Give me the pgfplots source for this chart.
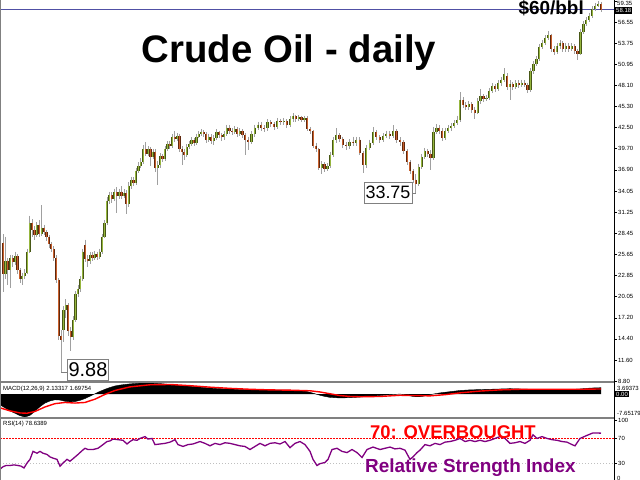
\documentclass[border=0pt]{standalone}
\usepackage{fontspec}
\setmainfont{Liberation Sans}
\usepackage{pgfplots}
\pgfplotsset{compat=1.18}
\usepackage{pgfplotstable}
\usepgfplotslibrary{fillbetween}

\definecolor{upfill}{RGB}{150,182,62}
\definecolor{upedge}{RGB}{72,88,22}
\definecolor{dnfill}{RGB}{200,96,44}
\definecolor{dnedge}{RGB}{96,40,14}
\definecolor{wick}{RGB}{160,160,160}
\definecolor{sep}{RGB}{128,128,128}
\definecolor{bid}{RGB}{80,80,165}
\definecolor{rsipurple}{RGB}{128,0,128}
\newcommand{\tk}{\fontsize{6}{7}\selectfont}

% daily candles: x (pixel column), open, high, low, close
\pgfplotstableread{
x o h l c
3.0 27.2 28.3 20.6 23.0
5.4 23.0 28.0 22.4 24.8
7.8 24.8 25.2 21.6 23.5
10.3 23.5 25.6 21.2 25.1
12.7 25.1 25.5 24.0 24.6
15.1 24.6 26.0 24.2 25.4
17.5 25.4 25.7 23.1 23.5
19.9 23.5 23.8 21.8 22.4
22.3 22.4 23.2 21.6 22.8
24.8 22.8 23.7 22.4 23.2
27.2 23.2 26.4 23.0 26.0
29.6 26.0 30.8 25.8 29.8
32.0 29.8 30.3 28.0 28.9
34.4 28.9 29.4 27.6 28.2
36.8 28.2 29.9 27.9 29.5
39.3 29.5 30.2 28.0 28.4
41.7 28.4 32.2 28.1 29.2
44.1 29.2 29.6 28.2 28.6
46.5 28.6 28.9 27.4 27.9
48.9 27.9 28.2 26.5 27.0
51.3 27.0 27.3 25.9 26.3
53.8 26.3 26.7 24.8 25.2
56.2 25.2 25.5 21.9 22.3
58.6 22.3 22.5 14.2 14.8
61.0 14.8 15.6 9.88 14.2
63.4 15.6 18.8 14.0 18.2
65.8 18.2 19.7 17.2 18.9
68.3 18.9 19.2 14.8 15.4
70.7 15.4 16.0 12.8 14.6
73.1 14.6 17.4 14.3 16.9
75.5 16.9 20.8 16.6 20.4
77.9 20.4 21.6 20.0 21.0
80.3 21.0 22.8 20.6 22.4
82.8 22.4 26.4 22.1 26.0
85.2 26.9 27.6 24.6 25.0
87.6 25.0 25.6 24.0 24.8
90.0 24.8 26.0 24.4 25.6
92.4 25.6 25.9 24.7 25.2
94.8 25.2 26.1 24.9 25.7
97.3 25.7 26.0 24.9 25.3
99.7 25.3 26.4 25.0 26.0
102.1 26.0 28.3 25.7 28.0
104.5 28.0 30.2 27.8 29.8
106.9 29.8 33.3 29.5 32.8
109.3 32.8 34.0 32.4 33.5
111.8 33.5 33.9 32.5 33.0
114.2 33.0 34.4 32.7 33.9
116.6 33.9 34.6 31.2 33.4
119.0 33.4 34.4 33.0 34.0
121.4 34.0 34.7 33.0 33.4
123.9 33.4 34.3 33.1 33.8
126.3 33.8 34.2 31.0 32.3
128.7 32.3 35.3 32.0 34.8
131.1 34.8 36.0 34.4 35.5
133.5 35.5 35.9 34.7 35.1
135.9 35.1 37.2 34.9 36.8
138.4 36.8 37.9 36.5 37.4
140.8 37.4 38.4 37.1 37.9
143.2 37.9 40.2 37.6 39.6
145.6 39.6 40.6 38.7 39.0
148.0 39.0 40.0 38.7 39.6
150.4 39.6 39.9 37.4 38.6
152.9 38.6 39.7 38.3 39.3
155.3 39.3 39.6 36.6 37.2
157.7 37.2 38.0 34.9 37.5
160.1 37.5 39.1 37.2 38.7
162.5 38.7 39.0 37.9 38.3
164.9 38.3 40.0 38.0 39.7
167.4 39.7 40.7 39.4 40.3
169.8 40.3 40.7 39.6 40.0
172.2 40.0 41.6 39.8 41.3
174.6 41.3 42.0 40.6 41.0
177.0 41.0 41.8 40.7 41.4
179.4 41.4 41.7 39.2 39.6
181.9 39.6 40.0 37.5 39.2
184.3 39.2 39.7 38.2 38.9
186.7 38.9 40.3 38.6 39.9
189.1 39.9 40.7 39.6 40.3
191.5 40.3 41.2 40.0 40.8
193.9 40.8 41.1 40.1 40.5
196.4 40.5 41.7 40.2 41.3
198.8 41.3 42.0 41.1 41.6
201.2 41.6 42.3 41.4 41.9
203.6 41.9 42.2 41.2 41.6
206.0 41.6 41.9 40.5 40.9
208.6 40.9 41.7 40.6 41.3
211.2 41.3 41.6 40.3 40.7
213.8 40.7 41.5 40.2 41.1
216.4 41.1 42.3 40.9 41.9
219.0 41.9 42.1 41.1 41.5
221.6 41.5 41.8 40.7 41.2
224.2 41.2 42.0 40.9 41.6
226.8 41.6 42.9 41.4 42.5
229.4 42.5 42.8 41.6 42.0
232.0 42.0 42.4 41.5 41.9
234.6 41.9 42.7 41.6 42.3
237.2 42.3 42.6 41.3 41.7
239.8 41.7 42.4 41.4 42.0
242.4 42.0 42.3 41.1 41.5
245.0 41.5 41.8 38.9 40.9
248.2 40.9 41.3 39.5 40.6
251.4 40.6 42.0 40.3 41.6
254.6 41.6 42.9 41.3 42.5
257.9 42.5 43.3 42.2 42.9
261.1 42.9 43.2 42.1 42.5
264.3 42.5 42.8 41.9 42.4
267.5 42.4 43.6 42.1 43.2
270.7 43.2 43.5 42.6 43.0
273.9 43.0 43.3 42.2 42.6
277.1 42.6 43.8 42.3 43.4
280.4 43.4 43.7 42.9 43.2
283.6 43.2 43.8 42.9 43.4
286.8 43.4 43.6 42.4 42.8
290.0 42.8 44.0 42.6 43.6
292.9 43.6 44.4 43.3 44.0
295.8 44.0 44.2 43.3 43.6
298.6 43.6 44.2 43.4 43.9
301.5 43.9 44.1 43.2 43.5
304.4 43.5 44.1 43.3 43.8
307.3 43.8 44.0 42.0 42.3
310.1 42.3 42.6 41.7 42.0
313.0 42.0 42.2 39.8 40.1
315.9 40.1 40.5 39.2 39.6
318.8 39.6 39.8 36.9 37.2
321.6 37.2 38.0 36.3 37.6
324.5 37.6 37.9 36.6 37.0
327.4 37.0 37.8 36.7 37.4
330.3 37.4 39.3 37.1 38.9
333.1 38.9 41.2 38.6 40.8
336.0 40.8 42.4 40.5 41.5
339.4 41.5 41.8 40.6 41.0
342.8 41.0 41.3 39.8 40.2
346.1 40.2 40.6 39.5 40.0
349.5 40.0 41.0 39.7 40.6
352.9 40.6 41.3 40.0 40.4
356.3 40.4 41.3 40.1 40.9
359.6 40.9 41.2 38.8 39.1
363.0 39.1 39.4 36.5 37.5
366.3 37.5 40.2 37.2 39.8
369.7 39.8 40.9 39.5 40.5
373.0 40.5 42.6 40.2 41.9
376.3 41.9 42.2 40.8 41.2
379.7 41.2 41.5 40.4 40.9
383.0 40.9 41.8 40.6 41.4
386.3 41.4 42.1 41.1 41.7
389.7 41.7 42.0 41.0 41.4
393.0 41.4 42.8 41.1 42.1
396.5 42.1 42.3 40.4 40.8
400.0 40.8 41.2 40.1 40.6
403.5 40.6 40.8 39.0 39.4
407.0 39.4 39.6 37.5 37.9
409.9 37.9 38.2 36.4 36.8
412.9 36.8 37.0 35.2 35.6
415.8 35.6 36.3 33.75 35.0
418.8 35.0 37.7 34.8 37.3
421.7 37.3 39.0 37.0 38.6
424.6 38.6 39.8 38.3 39.4
427.6 39.4 39.7 38.6 39.0
430.5 39.0 39.5 36.9 38.4
433.5 38.4 42.6 38.2 41.9
436.4 41.9 43.0 41.6 42.5
439.3 42.5 42.8 41.7 42.1
442.3 42.1 42.4 40.7 41.1
445.2 41.1 42.5 40.9 42.1
448.2 42.1 42.8 41.8 42.4
451.1 42.4 43.1 42.1 42.7
454.0 42.7 43.5 42.4 43.1
457.0 43.1 44.1 42.8 43.5
459.9 43.5 47.2 43.3 46.2
462.9 46.2 46.6 45.1 45.5
465.8 45.5 45.9 44.8 45.2
468.7 45.2 46.0 44.9 45.6
471.7 45.6 45.9 44.5 44.9
474.6 44.9 45.3 43.6 44.5
477.6 44.5 46.4 44.3 46.0
480.5 46.0 47.6 45.7 46.7
483.4 46.7 47.0 45.9 46.3
486.4 46.3 46.9 46.0 46.5
489.3 46.5 47.8 46.2 47.4
492.3 47.4 48.4 47.1 48.0
495.2 48.0 48.3 47.3 47.7
498.1 47.7 48.8 47.4 48.4
501.1 48.4 49.3 48.1 48.9
504.0 48.9 50.4 48.6 49.6
507.0 49.4 49.8 47.5 47.9
509.9 47.9 48.8 46.2 48.3
512.8 48.3 48.6 47.5 47.9
515.8 47.9 48.8 47.6 48.4
518.7 48.4 48.8 47.8 48.2
521.7 48.2 48.9 47.9 48.5
524.6 48.5 48.8 47.9 48.2
527.5 48.2 48.5 47.1 47.5
530.5 47.5 50.4 47.2 50.0
533.4 50.0 51.4 49.7 51.0
536.4 51.0 52.0 50.7 51.6
539.3 51.6 53.6 51.4 53.2
542.2 53.2 54.2 52.9 53.8
545.2 53.8 54.8 53.5 54.4
548.1 54.4 55.3 54.1 54.8
551.1 54.8 55.0 52.6 53.0
554.0 53.0 53.3 52.2 52.6
556.9 52.6 53.7 52.3 53.3
559.9 53.3 54.1 53.0 53.7
562.8 53.7 54.0 52.5 52.9
565.8 52.9 53.8 52.6 53.4
568.7 53.4 53.7 52.6 53.0
571.6 53.0 53.7 52.7 53.3
574.6 53.3 53.6 52.3 52.7
577.5 52.7 53.0 51.5 52.3
580.5 52.3 55.6 52.1 55.2
583.4 55.2 56.7 55.0 56.3
586.3 56.3 57.2 56.0 56.8
589.3 56.8 57.8 56.5 57.4
592.2 57.4 58.7 57.1 58.3
595.2 58.3 59.1 58.0 58.7
598.1 58.7 59.3 58.5 59.0
601.0 59.0 59.2 57.9 58.18
}\candles

% MACD main (histogram)
\pgfplotstableread{
x v
0 -3.6
5 -4.6
10 -5.6
15 -6.4
20 -7.2
25 -7.65
30 -7.1
35 -5.7
40 -4.2
45 -3.0
50 -2.3
55 -1.9
60 -2.0
65 -2.4
70 -2.6
75 -2.5
80 -2.1
85 -1.5
90 -0.7
95 0.1
100 0.9
105 1.6
110 2.2
115 2.7
120 3.0
130 3.4
140 3.65
150 3.69
160 3.5
170 3.2
180 2.9
190 2.6
200 2.3
210 2.0
220 1.8
230 1.7
240 1.5
250 1.4
260 1.4
270 1.3
280 1.3
290 1.3
300 1.2
305 1.0
310 0.6
315 0.1
320 -0.4
325 -0.8
330 -1.1
335 -1.2
340 -1.3
350 -1.2
360 -1.0
370 -0.7
380 -0.5
390 -0.2
400 0.0
405 -0.2
410 -0.6
415 -0.9
420 -0.9
425 -0.6
430 -0.2
440 0.4
450 0.8
460 1.2
470 1.4
480 1.5
490 1.6
500 1.7
510 1.8
520 1.7
530 1.6
540 1.6
550 1.6
560 1.6
570 1.5
580 1.7
590 2.0
601 2.13
}\macdmain

% MACD signal
\pgfplotstableread{
x v
0 -4.6
10 -5.6
20 -6.3
27 -6.4
35 -5.8
45 -4.3
55 -3.2
65 -2.8
75 -3.0
85 -2.8
95 -1.7
105 -0.1
115 1.2
130 2.4
150 3.1
170 3.2
190 2.8
210 2.3
230 1.9
250 1.6
270 1.4
290 1.3
310 1.1
320 0.7
330 0.1
340 -0.5
350 -0.8
360 -0.9
380 -0.8
400 -0.4
415 -0.5
430 -0.6
445 -0.2
460 0.4
480 1.0
500 1.4
520 1.6
540 1.6
560 1.6
580 1.6
601 1.70
}\macdsig

% RSI(14)
\pgfplotstableread{
x v
0 20
3 24
6 26
10 26
14 27
18 26
21 25
24 22
27 30
30 36
33 49
37 46
40 49
43 46
47 44
50 40
53 38
57 36
60 25
63 30
67 36
70 33
73 37
78 44
82 50
85 54
88 52
93 52
98 54
103 60
107 65
110 66
113 69
118 68
123 67
127 61
130 65
133 68
137 67
140 70
145 73
148 69
152 70
155 60
160 61
165 62
170 64
175 68
178 60
183 57
188 60
193 61
200 65
205 62
210 58
215 62
220 60
225 63
230 62
235 60
240 58
245 57
250 52
255 57
260 62
265 58
270 62
275 63
280 61
285 65
290 55
295 62
300 65
305 60
310 49
313 36
317 26
320 29
325 31
328 36
332 52
337 54
342 49
347 47
352 52
357 47
362 39
367 52
370 54
373 56
380 52
385 54
390 56
395 53
400 54
405 51
410 36
413 40
417 47
420 51
425 60
430 58
435 62
440 60
445 64
450 65
455 67
460 70
465 65
470 67
475 65
480 67
485 65
490 67
495 70
500 73
505 70
510 62
515 63
520 65
525 62
530 67
533 76
537 70
542 73
547 70
552 68
557 67
562 65
567 64
572 60
575 58
580 70
587 75
593 79
601 78.6
}\rsidata

\begin{document}
\begin{tikzpicture}[x=1bp,y=1bp]
\pgfplotsset{panel/.style={scale only axis, width=614bp, xmin=0, xmax=614,
  anchor=south west, hide x axis, axis y line*=right,
  y axis line style={-, black}, ytick pos=right, tick align=outside,
  major tick length=3bp, ytick style={black, line width=0.5bp},
  yticklabel style={font=\tk, anchor=west, inner sep=1bp}},
  candle/.style={draw=none, mark=none, forget plot}}

% price panel
\begin{axis}[panel, at={(0bp,99bp)}, height=380bp, ymin=8.80, ymax=59.35,
  ytick={8.80,11.60,14.40,17.20,20.05,22.85,25.65,28.45,31.25,34.05,36.90,39.70,42.50,45.30,48.10,50.95,53.75,56.55,59.35},
  yticklabels={8.80,11.60,14.40,17.20,20.05,22.85,25.65,28.45,31.25,34.05,36.90,39.70,42.50,45.30,48.10,50.95,53.75,56.55,{}}]
\addplot[bid, line width=0.8bp] coordinates {(0,58.18) (614,58.18)};
% wicks
\addplot[candle, error bars/.cd, y dir=minus, y explicit, error mark=none,
  error bar style={line width=0.8bp, draw=wick}]
  table[x=x, y=h, y error minus expr=\thisrow{h}-\thisrow{l}] {\candles};
% up bodies
\addplot[candle, restrict expr to domain={\thisrow{c}-\thisrow{o}}{0.0001:100},
  error bars/.cd, y dir=minus, y explicit, error mark=none,
  error bar style={line width=2.2bp, draw=upedge}]
  table[x=x, y=c, y error minus expr=\thisrow{c}-\thisrow{o}] {\candles};
\addplot[candle, restrict expr to domain={\thisrow{c}-\thisrow{o}}{0.0001:100},
  error bars/.cd, y dir=minus, y explicit, error mark=none,
  error bar style={line width=1.0bp, draw=upfill}]
  table[x=x, y=c, y error minus expr=\thisrow{c}-\thisrow{o}] {\candles};
% down bodies
\addplot[candle, restrict expr to domain={\thisrow{c}-\thisrow{o}}{-100:-0.0001},
  error bars/.cd, y dir=minus, y explicit, error mark=none,
  error bar style={line width=2.2bp, draw=dnedge}]
  table[x=x, y=o, y error minus expr=\thisrow{o}-\thisrow{c}] {\candles};
\addplot[candle, restrict expr to domain={\thisrow{c}-\thisrow{o}}{-100:-0.0001},
  error bars/.cd, y dir=minus, y explicit, error mark=none,
  error bar style={line width=1.0bp, draw=dnfill}]
  table[x=x, y=o, y error minus expr=\thisrow{o}-\thisrow{c}] {\candles};
% label connectors
\draw[gray, line width=0.8bp] (axis cs:61.0,9.88) -- (axis cs:68,9.88);
\draw[gray, line width=0.8bp] (axis cs:415.8,33.75) -- (axis cs:411,33.75);
\end{axis}

% MACD panel
\begin{axis}[panel, at={(0bp,63bp)}, height=34bp, ymin=-7.65179, ymax=3.69373, ytick=\empty]
\addplot[name path=m, draw=black, line width=0.4bp] table[x=x, y=v] {\macdmain};
\addplot[name path=z, draw=none] coordinates {(0,0) (601,0)};
\addplot[black] fill between[of=m and z];
\addplot[red, line width=1.4bp] table[x=x, y=v] {\macdsig};
\end{axis}

% RSI panel
\begin{axis}[panel, at={(0bp,-1.5bp)}, height=61.5bp, ymin=0, ymax=100,
  ytick={30,70,100}, yticklabels={30,70,100}]
\addplot[red, line width=1.3bp, dash pattern=on 2bp off 1bp] coordinates {(0,70) (614,70)};
\addplot[gray!50, line width=0.6bp, dash pattern=on 1bp off 2bp] coordinates {(0,30) (614,30)};
\addplot[rsipurple, line width=1.3bp] table[x=x, y=v] {\rsidata};
\end{axis}

% frame and separators
\fill[sep] (0bp,97bp) rectangle (614bp,99bp);
\fill[sep] (0bp,61bp) rectangle (614bp,63bp);
\draw[sep, line width=1bp] (0.5bp,0bp) -- (0.5bp,480bp);
\draw[black, line width=0.8bp] (614bp,0bp) -- (614bp,480bp);

% texts
\node[anchor=base, font=\fontsize{38.5}{40}\bfseries\selectfont] at (289bp,417bp) {Crude Oil - daily};
\node[anchor=base east, font=\fontsize{19}{21}\bfseries\selectfont, inner sep=0] at (584bp,465.5bp) {\$60/bbl};
\node[anchor=west, font=\tk, inner sep=1bp] at (616bp,476.6bp) {59.35};
\node[fill=black, text=white, font=\tk, anchor=west, inner sep=1bp] at (615bp,469.6bp) {58.18};
\node[draw=gray, fill=white, line width=0.8bp, inner sep=1.5bp, minimum height=21bp,
  font=\fontsize{20}{22}\selectfont] at (88bp,110.5bp) {9.88};
\node[draw=gray, fill=white, line width=0.8bp, inner sep=1.5bp, minimum height=21bp,
  font=\fontsize{18}{20}\selectfont] at (388bp,287.5bp) {33.75};
\node[anchor=west, font=\tk, inner sep=0] at (3bp,91bp) {MACD(12,26,9) 2.13317 1.69754};
\node[anchor=west, font=\tk, inner sep=0] at (3bp,56bp) {RSI(14) 78.6389};
\node[anchor=west, font=\tk, inner sep=1bp] at (616bp,92bp) {3.69373};
\node[anchor=west, fill=black, text=white, font=\tk, inner sep=1bp] at (615bp,86bp) {0.00};
\node[anchor=west, font=\tk, inner sep=1bp] at (616bp,67bp) {-7.65179};
\node[anchor=west, font=\tk, inner sep=1bp] at (616bp,2bp) {0};
\node[anchor=base west, text=red, font=\fontsize{18.5}{20}\bfseries\selectfont, inner sep=0] at (370bp,41.5bp) {70: OVERBOUGHT};
\node[anchor=base west, text=rsipurple, font=\fontsize{19}{21}\bfseries\selectfont, inner sep=0] at (365bp,8bp) {Relative Strength Index};

\pgfresetboundingbox
\useasboundingbox (0bp,0bp) rectangle (640bp,480bp);
\end{tikzpicture}
\end{document}
